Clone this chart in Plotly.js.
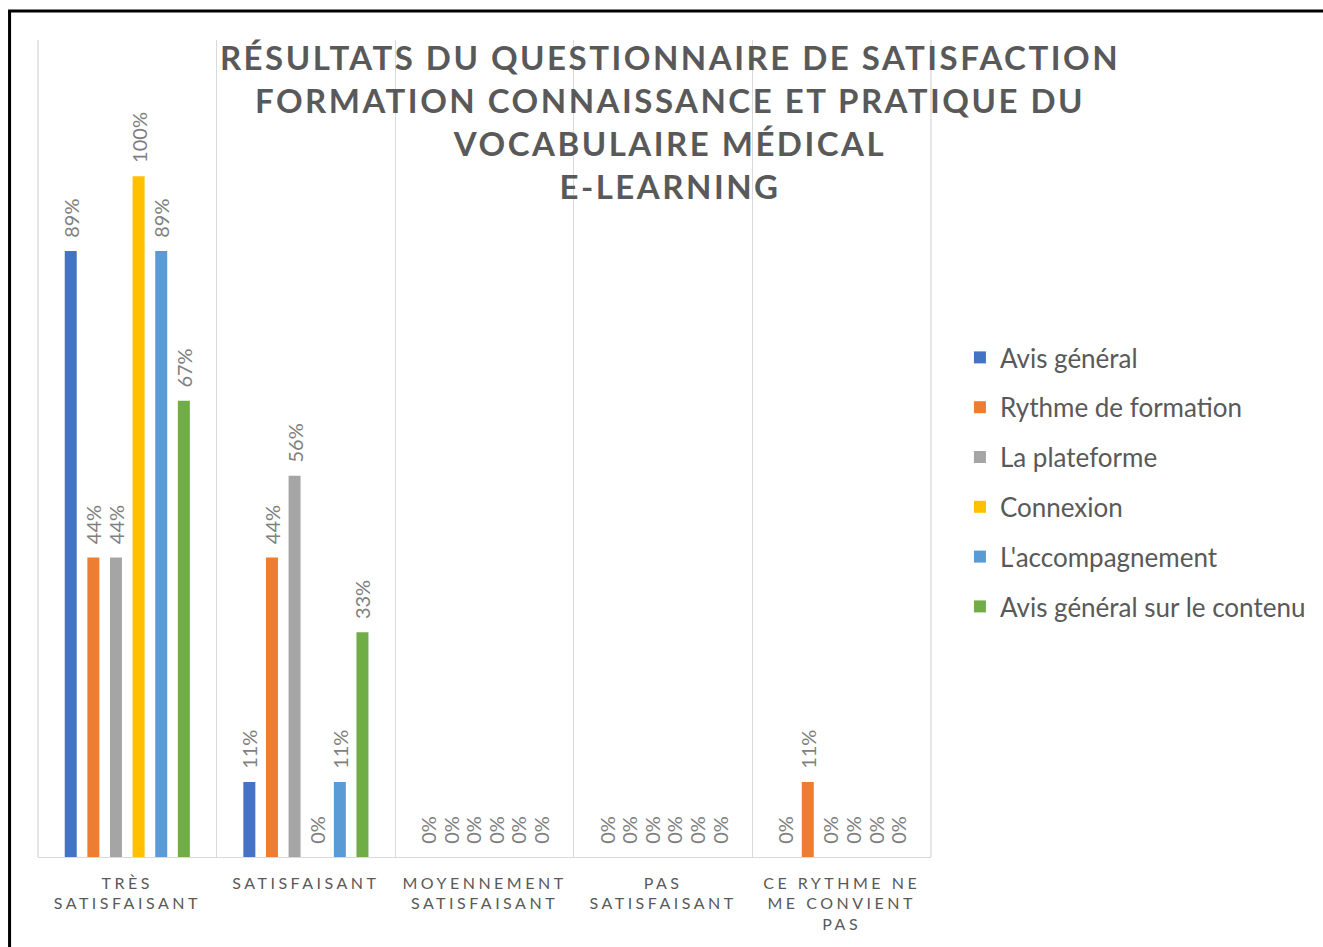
<!DOCTYPE html>
<html>
<head>
<meta charset="utf-8">
<script src="https://cdn.plot.ly/plotly-3.0.1.min.js"></script>
<style>
html, body { margin: 0; padding: 0; background: #fff; }
#chart { width: 1323px; height: 947px; }
.gtitle { letter-spacing: 2.5px; }
.xtick text { letter-spacing: 3.5px; }
</style>
</head>
<body>
<div id="chart"></div>
<script>
const categories = [
  "TRÈS<br>SATISFAISANT",
  "SATISFAISANT",
  "MOYENNEMENT<br>SATISFAISANT",
  "PAS<br>SATISFAISANT",
  "CE RYTHME NE<br>ME CONVIENT<br>PAS"
];
const seriesNames = [
  "Avis général",
  "Rythme de formation",
  "La plateforme",
  "Connexion",
  "L'accompagnement",
  "Avis général sur le contenu"
];
const avisGeneral     = [0.89, 0.11, 0, 0, 0];
const rythme          = [0.44, 0.44, 0, 0, 0.11];
const plateforme      = [0.44, 0.56, 0, 0, 0];
const connexion       = [1.00, 0.00, 0, 0, 0];
const accompagnement  = [0.89, 0.11, 0, 0, 0];
const contenu         = [0.67, 0.33, 0, 0, 0];
const seriesValues = [avisGeneral, rythme, plateforme, connexion, accompagnement, contenu];
const colors = ["#4472C4", "#ED7D31", "#A5A5A5", "#FFC000", "#5B9BD5", "#70AD47"];

const FONT = "Lato, 'Open Sans', sans-serif";

const traces = seriesValues.map((vals, i) => ({
  type: "bar",
  name: seriesNames[i],
  x: categories,
  y: vals,
  marker: { color: colors[i] },
  texttemplate: "\u00a0\u00a0%{y:.0%}",
  textposition: "outside",
  textangle: -90,
  constraintext: "none",
  cliponaxis: false,
  textfont: { family: FONT, size: 20, color: "#7F7F7F" },
  legendgroup: "g" + i,
  hoverinfo: "name+y"
}));

const L = 38, R = 933, T = 40, B = 857, W = 1323, H = 947;
const pw = R - L, ph = B - T;
const px = v => (v - L) / pw;
const py = v => (B - v) / ph;

const layout = {
  width: W, height: H,
  margin: { l: L, r: W - R, t: T, b: H - B, pad: 0 },
  paper_bgcolor: "#ffffff",
  plot_bgcolor: "#ffffff",
  barmode: "group",
  bargap: 0.24,
  bargroupgap: 0.47,
  showlegend: true,
  title: {
    text: "RÉSULTATS DU QUESTIONNAIRE DE SATISFACTION<br>FORMATION CONNAISSANCE ET PRATIQUE DU<br>VOCABULAIRE MÉDICAL<br>E-LEARNING",
    font: { family: FONT, size: 33, color: "#595959", weight: "bold" },
    x: 670 / W, xanchor: "center", xref: "container",
    y: 1 - 70 / H, yanchor: "top", yref: "container"
  },
  xaxis: {
    type: "category",
    tickson: "boundaries",
    showgrid: true,
    gridcolor: "#D9D9D9",
    gridwidth: 1.3,
    showline: true,
    linecolor: "#D9D9D9",
    linewidth: 1.3,
    ticks: "",
    tickfont: { family: FONT, size: 16, color: "#595959" },
    ticklabelstandoff: 11,
    fixedrange: true
  },
  yaxis: {
    range: [0, 1.2],
    showgrid: false,
    zeroline: false,
    showticklabels: false,
    ticks: "",
    showline: false,
    fixedrange: true
  },
  legend: {
    x: px(962), xanchor: "left",
    y: py(482), yanchor: "middle",
    traceorder: "grouped",
    tracegroupgap: 13,
    font: { family: FONT, size: 26, color: "#595959" },
    bgcolor: "rgba(0,0,0,0)"
  },
  shapes: [
    { type: "line", xref: "paper", yref: "paper", x0: 0, x1: 0, y0: 0, y1: 1, line: { color: "#D9D9D9", width: 1.3 } },
    { type: "line", xref: "paper", yref: "paper", x0: 1, x1: 1, y0: 0, y1: 1, line: { color: "#D9D9D9", width: 1.3 } },
    { type: "line", xref: "paper", yref: "paper", x0: px(9.5), x1: px(9.5), y0: py(11), y1: py(950), line: { color: "#000", width: 3 } },
    { type: "line", xref: "paper", yref: "paper", x0: px(8), x1: px(1330), y0: py(11), y1: py(11), line: { color: "#000", width: 3 } }
  ]
};

Plotly.newPlot("chart", traces, layout, { displayModeBar: false, staticPlot: true });
</script>
</body>
</html>
